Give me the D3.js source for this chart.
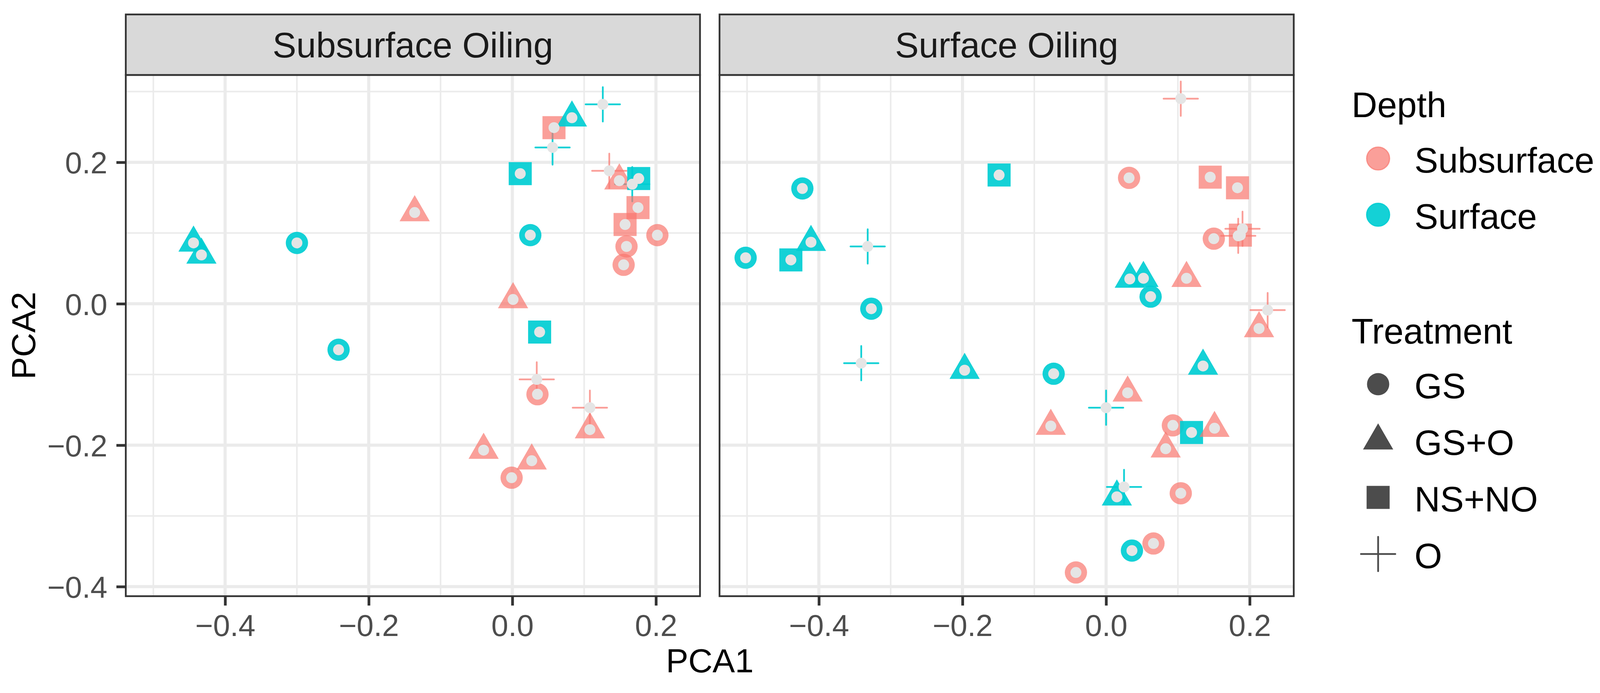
<!DOCTYPE html>
<html>
<head>
<meta charset="utf-8">
<script src="https://cdn.jsdelivr.net/npm/d3@7"></script>
<style>
  body { margin: 0; background: #fff; }
  svg { display: block; }
  text { font-family: "Liberation Sans", Arial, sans-serif; }
</style>
</head>
<body>
<div id="chart"></div>
<script>
const panels = ["Subsurface Oiling", "Surface Oiling"];
const depths = ["Subsurface", "Surface"];
const treatments = ["GS", "GS+O", "NS+NO", "O"];

const xMajor = [-0.4, -0.2, 0, 0.2];
const xMinor = [-0.5, -0.3, -0.1, 0.1];
const yMajor = [-0.4, -0.2, 0, 0.2];
const yMinor = [-0.3, -0.1, 0.1, 0.3];

// [PCA1, PCA2, depth, treatment]
const subsurfaceOiling = [
  [0.126, 0.282, "Surface", "O"],
  [0.056, 0.221, "Surface", "O"],
  [0.167, 0.169, "Surface", "O"],
  [0.202, 0.097, "Subsurface", "GS"],
  [0.159, 0.081, "Subsurface", "GS"],
  [0.155, 0.055, "Subsurface", "GS"],
  [0.035, -0.128, "Subsurface", "GS"],
  [-0.001, -0.246, "Subsurface", "GS"],
  [-0.136, 0.129, "Subsurface", "GS+O"],
  [0.001, 0.006, "Subsurface", "GS+O"],
  [0.149, 0.174, "Subsurface", "GS+O"],
  [0.108, -0.178, "Subsurface", "GS+O"],
  [-0.040, -0.207, "Subsurface", "GS+O"],
  [0.027, -0.222, "Subsurface", "GS+O"],
  [0.058, 0.249, "Subsurface", "NS+NO"],
  [0.175, 0.136, "Subsurface", "NS+NO"],
  [0.157, 0.112, "Subsurface", "NS+NO"],
  [0.135, 0.188, "Subsurface", "O"],
  [0.034, -0.107, "Subsurface", "O"],
  [0.108, -0.147, "Subsurface", "O"],
  [-0.300, 0.086, "Surface", "GS"],
  [0.025, 0.097, "Surface", "GS"],
  [-0.242, -0.065, "Surface", "GS"],
  [-0.444, 0.086, "Surface", "GS+O"],
  [-0.433, 0.069, "Surface", "GS+O"],
  [0.083, 0.263, "Surface", "GS+O"],
  [0.011, 0.184, "Surface", "NS+NO"],
  [0.038, -0.040, "Surface", "NS+NO"],
  [0.176, 0.177, "Surface", "NS+NO"]
];

const surfaceOiling = [
  [-0.332, 0.081, "Surface", "O"],
  [-0.341, -0.084, "Surface", "O"],
  [0.000, -0.147, "Surface", "O"],
  [0.032, 0.178, "Subsurface", "GS"],
  [0.150, 0.092, "Subsurface", "GS"],
  [0.093, -0.172, "Subsurface", "GS"],
  [0.104, -0.268, "Subsurface", "GS"],
  [0.066, -0.339, "Subsurface", "GS"],
  [-0.042, -0.380, "Subsurface", "GS"],
  [0.112, 0.036, "Subsurface", "GS+O"],
  [0.213, -0.035, "Subsurface", "GS+O"],
  [0.030, -0.126, "Subsurface", "GS+O"],
  [-0.077, -0.173, "Subsurface", "GS+O"],
  [0.083, -0.205, "Subsurface", "GS+O"],
  [0.145, 0.179, "Subsurface", "NS+NO"],
  [0.183, 0.164, "Subsurface", "NS+NO"],
  [0.187, 0.097, "Subsurface", "NS+NO"],
  [0.104, 0.290, "Subsurface", "O"],
  [0.190, 0.106, "Subsurface", "O"],
  [0.184, 0.096, "Subsurface", "O"],
  [0.225, -0.009, "Subsurface", "O"],
  [-0.502, 0.065, "Surface", "GS"],
  [-0.423, 0.163, "Surface", "GS"],
  [-0.327, -0.007, "Surface", "GS"],
  [-0.073, -0.099, "Surface", "GS"],
  [0.062, 0.010, "Surface", "GS"],
  [0.036, -0.349, "Surface", "GS"],
  [-0.411, 0.087, "Surface", "GS+O"],
  [-0.197, -0.094, "Surface", "GS+O"],
  [0.033, 0.035, "Surface", "GS+O"],
  [0.052, 0.036, "Surface", "GS+O"],
  [0.135, -0.088, "Surface", "GS+O"],
  [0.015, -0.273, "Surface", "GS+O"],
  [-0.149, 0.182, "Surface", "NS+NO"],
  [-0.439, 0.062, "Surface", "NS+NO"],
  [0.119, -0.182, "Surface", "NS+NO"],
  [0.025, -0.259, "Surface", "O"],
  [0.151, -0.176, "Subsurface", "GS+O"]
];

const panelData = [subsurfaceOiling, surfaceOiling];

const W = 4102, H = 1775;
const panelLefts = [322, 1842];
const panelW = 1470;
const panelTop = 192, panelBottom = 1527, stripTop = 37;
const panelH = panelBottom - panelTop;

const svg = d3.select("#chart").append("svg")
  .attr("width", W)
  .attr("height", H);

// ggplot-like 5% expansion on the shared scales
const all = subsurfaceOiling.concat(surfaceOiling);
const xExt = d3.extent(all, d => d[0]);
const yExt = d3.extent(all, d => d[1]);
const xPad = (xExt[1] - xExt[0]) * 0.05;
const yPad = (yExt[1] - yExt[0]) * 0.05;

const x = d3.scaleLinear().domain([xExt[0] - xPad, xExt[1] + xPad]).range([0, panelW]);
const y = d3.scaleLinear().domain([yExt[0] - yPad, yExt[1] + yPad]).range([panelH, 0]);

const color = d3.scaleOrdinal().domain(depths).range(["#F8766D", "#00CDD3"]);
const alpha = d3.scaleOrdinal().domain(depths).range([0.7, 0.92]);

const plusSymbol = {
  draw(context, size) {
    const r = Math.sqrt(size) / 2;
    context.moveTo(-r, 0);
    context.lineTo(r, 0);
    context.moveTo(0, -r);
    context.lineTo(0, r);
  }
};
const shapeType = d3.scaleOrdinal().domain(treatments)
  .range([d3.symbolCircle, d3.symbolTriangle, d3.symbolSquare, plusSymbol]);
const shapeSize = d3.scaleOrdinal().domain(treatments)
  .range([28.5 * 28.5 * Math.PI, 2590, 59 * 59, 88 * 88]);

const fmt = d3.format(".1f");

// rim: legend keys show the darker edge of a filled+stroked point
function drawShape(sel, treatment, fill, op, scale = 1, rim = false) {
  const p = sel.append("path")
    .attr("d", d3.symbol().type(shapeType(treatment)).size(shapeSize(treatment) * scale * scale)());
  if (treatment === "O") {
    p.attr("fill", "none")
      .attr("stroke", fill)
      .attr("stroke-opacity", op)
      .attr("stroke-width", 4.5)
      .attr("stroke-linecap", "round");
  } else {
    p.attr("fill", fill).attr("fill-opacity", op);
    if (rim && treatment === "GS") {
      p.attr("stroke", fill).attr("stroke-opacity", op).attr("stroke-width", 3);
    }
  }
  return p;
}

panels.forEach((name, i) => {
  const g = svg.append("g")
    .attr("transform", `translate(${panelLefts[i]},${panelTop})`);

  g.append("rect").attr("width", panelW).attr("height", panelH).attr("fill", "#fff");

  // grid
  g.selectAll(".vminor").data(xMinor).join("line")
    .attr("x1", d => x(d)).attr("x2", d => x(d))
    .attr("y1", 0).attr("y2", panelH)
    .attr("stroke", "#EBEBEB").attr("stroke-width", 4);
  g.selectAll(".hminor").data(yMinor).join("line")
    .attr("y1", d => y(d)).attr("y2", d => y(d))
    .attr("x1", 0).attr("x2", panelW)
    .attr("stroke", "#EBEBEB").attr("stroke-width", 4);
  g.selectAll(".vmajor").data(xMajor).join("line")
    .attr("x1", d => x(d)).attr("x2", d => x(d))
    .attr("y1", 0).attr("y2", panelH)
    .attr("stroke", "#EBEBEB").attr("stroke-width", 8);
  g.selectAll(".hmajor").data(yMajor).join("line")
    .attr("y1", d => y(d)).attr("y2", d => y(d))
    .attr("x1", 0).attr("x2", panelW)
    .attr("stroke", "#EBEBEB").attr("stroke-width", 8);

  // points
  const pts = g.append("g");
  panelData[i].forEach(d => {
    const pg = pts.append("g").attr("transform", `translate(${x(d[0])},${y(d[1])})`);
    drawShape(pg, d[3], color(d[2]), alpha(d[2]));
  });

  // grey centre dots on top
  g.append("g").selectAll("circle").data(panelData[i]).join("circle")
    .attr("cx", d => x(d[0]))
    .attr("cy", d => y(d[1]))
    .attr("r", 14)
    .attr("fill", "#E5E5E5");

  // border
  g.append("rect").attr("width", panelW).attr("height", panelH)
    .attr("fill", "none").attr("stroke", "#333333").attr("stroke-width", 4.5);

  // strip
  const stripH = panelTop - stripTop;
  g.append("rect")
    .attr("x", 0).attr("y", -stripH)
    .attr("width", panelW).attr("height", stripH)
    .attr("fill", "#D9D9D9").attr("stroke", "#333333").attr("stroke-width", 4.5);
  g.append("text")
    .attr("x", panelW / 2).attr("y", -stripH / 2 + 32)
    .attr("text-anchor", "middle")
    .attr("font-size", 91)
    .attr("fill", "#1A1A1A")
    .text(name);

  // x axis
  const xa = g.append("g")
    .attr("transform", `translate(0,${panelH})`)
    .call(d3.axisBottom(x).tickValues(xMajor).tickFormat(fmt).tickSize(24).tickPadding(23));
  xa.select(".domain").remove();
  xa.selectAll(".tick line").attr("stroke", "#333333").attr("stroke-width", 7);
  xa.selectAll(".tick text").attr("fill", "#4D4D4D").attr("font-size", 78)
    .attr("font-family", "Liberation Sans, Arial, sans-serif");

  if (i === 0) {
    const ya = g.append("g")
      .call(d3.axisLeft(y).tickValues(yMajor).tickFormat(fmt).tickSize(24).tickPadding(23));
    ya.select(".domain").remove();
    ya.selectAll(".tick line").attr("stroke", "#333333").attr("stroke-width", 7);
    ya.selectAll(".tick text").attr("fill", "#4D4D4D").attr("font-size", 78)
      .attr("dy", "0.36em")
      .attr("font-family", "Liberation Sans, Arial, sans-serif");
  }
});

// axis titles
svg.append("text")
  .attr("x", (panelLefts[0] + panelLefts[1] + panelW) / 2)
  .attr("y", 1722)
  .attr("text-anchor", "middle")
  .attr("font-size", 86)
  .text("PCA1");

svg.append("text")
  .attr("transform", `translate(90,${(panelTop + panelBottom) / 2}) rotate(-90)`)
  .attr("text-anchor", "middle")
  .attr("font-size", 86)
  .text("PCA2");

// legend
const legend = svg.append("g");
const titleX = 3460, keyX = 3528, labelX = 3621;

legend.append("text").attr("x", titleX).attr("y", 300).attr("font-size", 91).text("Depth");
depths.forEach((dep, k) => {
  const cy = 406 + k * 144;
  const kg = legend.append("g").attr("transform", `translate(${keyX},${cy})`);
  drawShape(kg, "GS", color(dep), alpha(dep), 1.03, true);
  legend.append("text").attr("x", labelX).attr("y", cy + 36).attr("font-size", 91).text(dep);
});

legend.append("text").attr("x", titleX).attr("y", 880).attr("font-size", 91).text("Treatment");
treatments.forEach((t, k) => {
  const cy = 984 + k * 145;
  const kg = legend.append("g").attr("transform", `translate(${keyX},${cy})`);
  drawShape(kg, t, "#000000", 0.7);
  legend.append("text").attr("x", labelX).attr("y", cy + 36).attr("font-size", 91).text(t);
});
</script>
</body>
</html>
